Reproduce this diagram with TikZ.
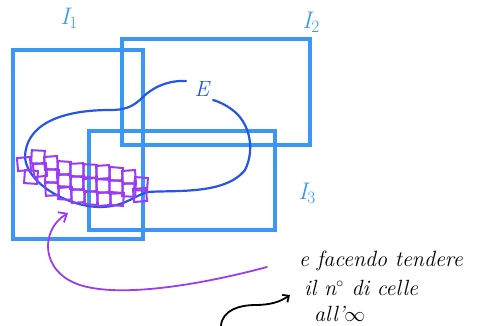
\documentclass[tikz,border=0pt]{standalone}
\usetikzlibrary{arrows.meta}
\definecolor{boxblue}{HTML}{3A97F5}
\definecolor{curveblue}{HTML}{2656E8}
\definecolor{cellpurple}{HTML}{9A3CF5}
\tikzset{
  setbox/.style={draw=boxblue, line width=4pt},
  setlabel/.style={text=boxblue, font=\fontsize{24}{28}\selectfont\itshape},
  cell/.style={draw=cellpurple, line width=2pt, minimum size=13pt, inner sep=0pt},
  note/.style={font=\fontsize{22}{26}\selectfont\itshape, anchor=west, inner sep=0pt}
}
\begin{document}
\begin{tikzpicture}[x=1pt,y=-1pt]
\useasboundingbox (0,0) rectangle (480,326);
% boxes
\draw[setbox] (13,50) rectangle (143,239);
\draw[setbox] (122,39) rectangle (310,145);
\draw[setbox] (89,131) rectangle (275,230);
\node[setlabel] (l1) at (69,18) {I$_1$};
\node[setlabel] (l2) at (311,22) {I$_2$};
\node[setlabel] (l3) at (307,193) {I$_3$};
% set E
\node[text=curveblue, font=\fontsize{22}{26}\selectfont\itshape] (E) at (202,89) {E};
\coordinate (es) at (186,81);
\coordinate (ee) at (213,100);
\draw[curveblue, line width=2.2pt, line cap=round]
  (es) .. controls (165,80) and (150,90) .. (143,97)
  .. controls (133,107) and (125,110) .. (110,110)
  .. controls (60,110) and (25,125) .. (25,158)
  .. controls (28,185) and (70,207) .. (100,207)
  .. controls (125,207) and (135,195) .. (148,192)
  .. controls (175,190) and (225,195) .. (245,170)
  .. controls (255,150) and (250,125) .. (235,112)
  .. controls (228,106) and (220,102) .. (ee);
% cells
\foreach \x/\y/\r in {
  24/164/5, 31/177/-4, 38/157/-3, 40/170/6,
  51/163/4, 52/176/-5, 52/189/3,
  64/168/-4, 64/181/5, 65/193/-3,
  77/170/3, 77/183/-5, 78/196/4,
  90/171/-3, 90/185/5, 91/198/-4,
  103/172/4, 103/186/-3, 104/199/5,
  116/174/-5, 116/187/3, 117/199/-4,
  129/177/4, 129/190/-3,
  141/184/-4, 140/195/5}
  \node[cell, rotate=\r] at (\x,\y) {};
% purple arrow
\coordinate (pa) at (267,267);
\coordinate (pb) at (68,213);
\draw[cellpurple, line width=1.8pt, line cap=round, -{Straight Barb[length=7pt,width=12pt]}]
  (pa) .. controls (200,285) and (120,298) .. (80,285)
  .. controls (40,272) and (40,230) .. (pb);
% black arrow
\coordinate (ba) at (221,326);
\coordinate (bb) at (290,295);
\draw[black, line width=1.8pt, line cap=round, -{Straight Barb[length=5pt,width=9pt]}]
  (ba) .. controls (222,310) and (240,305) .. (255,305)
  .. controls (270,305) and (280,302) .. (bb);
% note
\node[note] (n1) at (299,261) {e facendo tendere};
\node[note] (n2) at (304,288) {il n$^\circ$ di celle};
\node[note] (n3) at (314,314) {all'$\infty$};
\end{tikzpicture}
\end{document}
